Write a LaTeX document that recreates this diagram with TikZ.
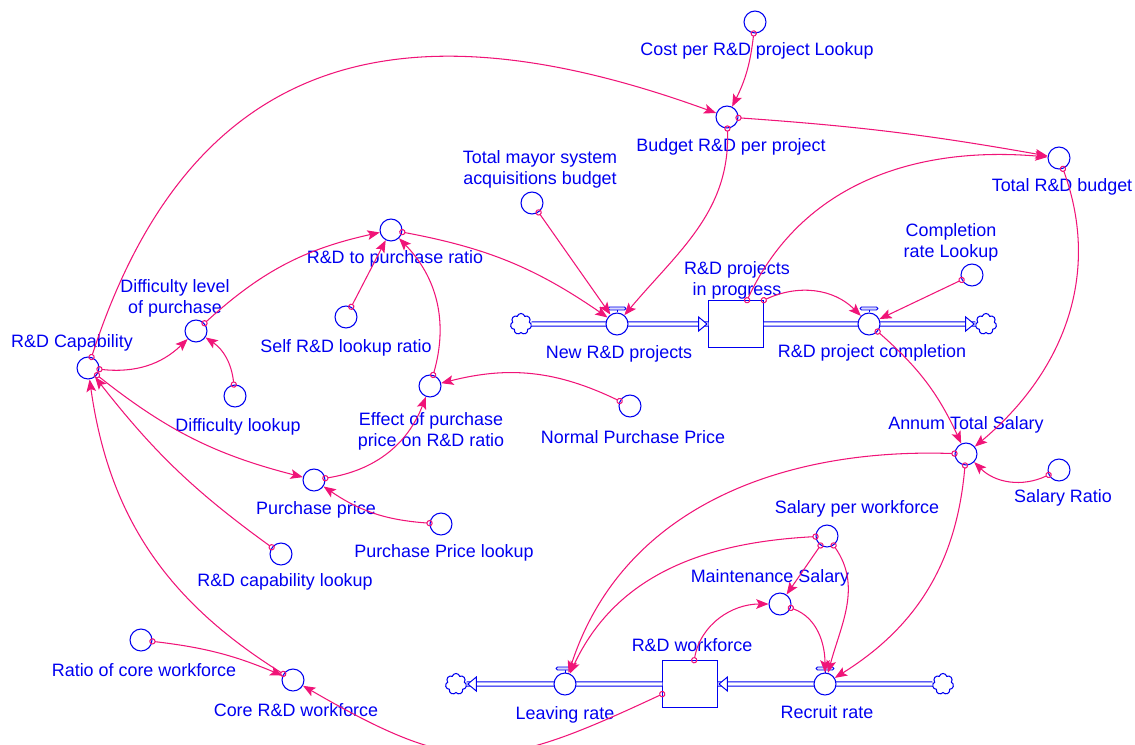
\documentclass[tikz,border=0pt]{standalone}
\usepackage{fontspec}
\setmainfont{Liberation Sans}
\usetikzlibrary{calc}
\usetikzlibrary{arrows.meta}
\usetikzlibrary{shapes.geometric}
\usetikzlibrary{shapes.symbols}
\definecolor{vblue}{RGB}{0,0,240}
\definecolor{vpink}{RGB}{240,20,120}
\tikzset{
  var/.style={circle, draw=vblue, line width=0.6pt, minimum size=12.5pt, inner sep=0pt},
  valve/.style={var, fill=white},
  stock/.style={rectangle, draw=vblue, line width=0.6pt, minimum width=31pt, minimum height=26.5pt, inner sep=0pt},
  sink/.style={cloud, cloud puffs=7, aspect=1, draw=vblue, line width=0.6pt, minimum width=12pt, minimum height=12pt, inner sep=0pt},
  txt/.style={text=vblue, font=\fontsize{10.2}{12}\selectfont, align=center, inner sep=0pt},
  pipe/.style={draw=vblue, line width=0.55pt, double=white, double distance=1.8pt},
  pipetip/.style={isosceles triangle, isosceles triangle stretches, draw=vblue, fill=white, line width=0.55pt, minimum width=8pt, minimum height=4.8pt, inner sep=0pt},
  infl/.style={draw=vpink, line width=0.6pt, shorten <=-1.8pt, {Circle[open, length=3.6pt, width=3.6pt]}-{Stealth[length=7pt, width=5.5pt, inset=1.5pt]}},
}

\begin{document}
\begin{tikzpicture}[x=0.02cm, y=0.02cm]
  \useasboundingbox (0,0) rectangle (1135,-744);

  % stocks and clouds
  \node[stock] (proj) at (736,-324) {};
  \node[stock] (work) at (690,-684) {};
  \node[sink] (src1) at (521,-324) {};
  \node[sink] (snk1) at (986,-324) {};
  \node[sink] (src2) at (943,-684) {};
  \node[sink] (snk2) at (456,-684) {};

  % pipes
  \draw[pipe] (src1) -- (proj.west);
  \draw[pipe] (proj.east) -- (snk1);
  \draw[pipe] (src2) -- (work.east);
  \draw[pipe] (work.west) -- (snk2);
  \node[pipetip, anchor=apex] (tip1) at (proj.west) {};
  \node[pipetip, anchor=apex] (tip2) at (snk1.west) {};
  \node[pipetip, anchor=apex, shape border rotate=180] (tip3) at (work.east) {};
  \node[pipetip, anchor=apex, shape border rotate=180] (tip4) at (snk2.east) {};

  % valves
  \node[valve] (newp) at (617,-324) {};
  \node[valve] (compl) at (869,-324) {};
  \node[valve] (recruit) at (825,-684) {};
  \node[valve] (leave) at (565,-684) {};
  \foreach \v in {newp,compl,recruit,leave}{
    \draw[vblue, line width=0.5pt] (\v.north) -- ++(0,3);
    \draw[vblue, line width=0.5pt, fill=vblue!15, rounded corners=0.8pt] ($(\v.north)+(-9,2.5)$) rectangle ($(\v.north)+(9,5.5)$);
  }

  % auxiliaries
  \node[var] (costlk) at (755,-22) {};
  \node[var] (budget) at (727,-117) {};
  \node[var] (totbud) at (1059,-158) {};
  \node[var] (tmsab) at (532,-203) {};
  \node[var] (complk) at (972,-275) {};
  \node[var] (ratio) at (391,-230) {};
  \node[var] (diff) at (196,-331) {};
  \node[var] (cap) at (88,-368) {};
  \node[var] (selflk) at (346,-317) {};
  \node[var] (difflk) at (235,-396) {};
  \node[var] (effect) at (430,-386) {};
  \node[var] (npp) at (630,-406) {};
  \node[var] (price) at (314,-480) {};
  \node[var] (pricelk) at (441,-524) {};
  \node[var] (caplk) at (281,-554) {};
  \node[var] (annum) at (966,-454) {};
  \node[var] (salratio) at (1059,-470) {};
  \node[var] (spw) at (827,-536) {};
  \node[var] (maint) at (780,-604) {};
  \node[var] (core) at (293,-680) {};
  \node[var] (corerat) at (141,-640) {};

  % labels
  \node[txt] (costlkT) at (757,-51) {Cost per R\&D project Lookup};
  \node[txt] (budgetT) at (731,-147) {Budget R\&D per project};
  \node[txt] (totbudT) at (1062,-187) {Total R\&D budget};
  \node[txt] (tmsabT) at (540,-169) {Total mayor system\\acquisitions budget};
  \node[txt] (complkT) at (951,-242) {Completion\\rate Lookup};
  \node[txt] (projT) at (737,-280) {R\&D projects\\in progress};
  \node[txt] (newpT) at (619,-354) {New R\&D projects};
  \node[txt] (complT) at (872,-353) {R\&D project completion};
  \node[txt] (ratioT) at (395,-259) {R\&D to purchase ratio};
  \node[txt] (diffT) at (175,-298) {Difficulty level\\of purchase};
  \node[txt] (capT) at (72,-343) {R\&D Capability};
  \node[txt] (selflkT) at (346,-348) {Self R\&D lookup ratio};
  \node[txt] (difflkT) at (238,-427) {Difficulty lookup};
  \node[txt] (effectT) at (431,-431) {Effect of purchase\\price on R\&D ratio};
  \node[txt] (nppT) at (633,-437) {Normal Purchase Price};
  \node[txt] (priceT) at (316,-510) {Purchase price};
  \node[txt] (pricelkT) at (444,-553) {Purchase Price lookup};
  \node[txt] (caplkT) at (285,-582) {R\&D capability lookup};
  \node[txt] (annumT) at (966,-425) {Annum Total Salary};
  \node[txt] (salratioT) at (1063,-498) {Salary Ratio};
  \node[txt] (spwT) at (857,-509) {Salary per workforce};
  \node[txt] (maintT) at (770,-578) {Maintenance Salary};
  \node[txt] (workT) at (692,-645) {R\&D workforce};
  \node[txt] (recruitT) at (827,-712) {Recruit rate};
  \node[txt] (leaveT) at (565,-715) {Leaving rate};
  \node[txt] (coreT) at (296,-710) {Core R\&D workforce};
  \node[txt] (coreratT) at (144,-670) {Ratio of core workforce};

  % influences, upper part
  \draw[infl] (costlk) to[bend left=10] (budget);
  \draw[infl] (cap) to[out=72, in=160, looseness=1.25] (budget);
  \draw[infl] (budget) to[bend left=3] (totbud);
  \draw[infl] (budget) to[out=-88, in=50] (newp);
  \draw[infl] (proj) to[out=65, in=175] (totbud);
  \draw[infl] (proj.north east) to[out=25, in=135] (compl);
  \draw[infl] (complk) -- (compl);
  \draw[infl] (tmsab) -- (newp);
  \draw[infl] (ratio) to[bend left=12] (newp);
  \draw[infl] (diff) to[bend left=15] (ratio);
  \draw[infl] (selflk) -- (ratio);
  \draw[infl] (effect) to[bend right=30] (ratio);
  \draw[infl] (npp) to[bend right=20] (effect);
  \draw[infl] (price) to[bend right=30] (effect);
  \draw[infl] (pricelk) to[bend left=15] (price);
  \draw[infl] (cap) to[bend right=25] (diff);
  \draw[infl] (difflk) to[bend right=25] (diff);
  \draw[infl] (cap) to[bend right=12] (price);
  \draw[infl] (caplk) to[bend left=8] (cap);
  \draw[infl] (core) to[out=148, in=-82] (cap);
  \draw[infl] (corerat) to[bend left=8] (core);

  % influences, salary part
  \draw[infl] (totbud) to[out=-70, in=40] (annum);
  \draw[infl] (compl) to[bend left=12] (annum);
  \draw[infl] (salratio) to[bend left=35] (annum);
  \draw[infl] (annum) to[out=178, in=72] (leave);
  \draw[infl] (annum) to[out=-95, in=32] (recruit);
  \draw[infl] (spw) to[out=183, in=65] (leave);
  \draw[infl] (spw) -- (maint);
  \draw[infl] (spw) to[out=-55, in=75] (recruit);
  \draw[infl] (work) to[out=80, in=180] (maint);
  \draw[infl] (maint) to[out=-20, in=90] (recruit);
  \draw[infl] (work.-160) to[out=205, in=-30, looseness=1.3] (core);
\end{tikzpicture}
\end{document}
